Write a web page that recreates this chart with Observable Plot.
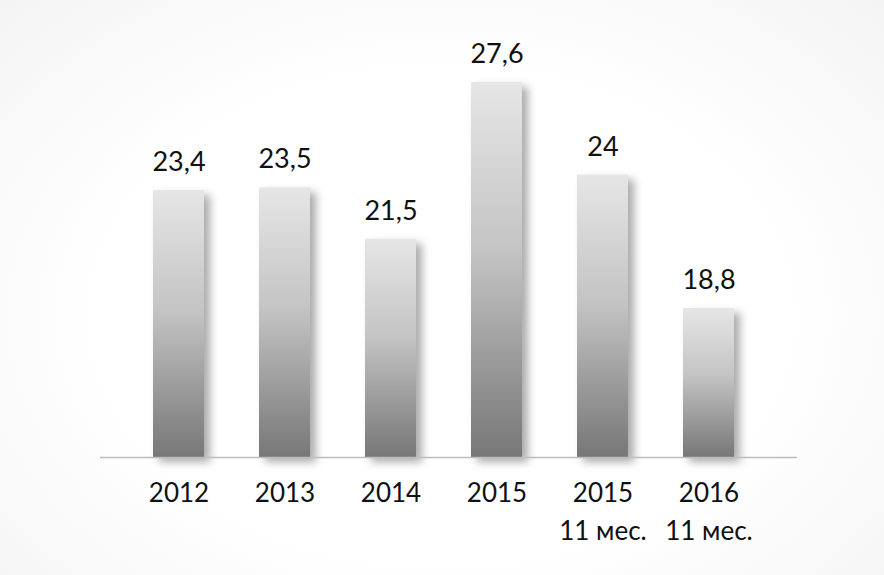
<!DOCTYPE html>
<html>
<head>
<meta charset="utf-8">
<script src="https://cdn.jsdelivr.net/npm/d3@7"></script>
<script src="https://cdn.jsdelivr.net/npm/@observablehq/plot@0.6"></script>
<style>
  html, body { margin: 0; padding: 0; }
  body { width: 884px; height: 575px; overflow: hidden;
         background: radial-gradient(ellipse at 50% 55%, #ffffff 55%, #f4f4f4 100%); }
  #chart svg { display: block; background: transparent; }
</style>
</head>
<body>
<div id="chart"></div>
<script>
const categories = ["2012", "2013", "2014", "2015", "2015\n11 мес.", "2016\n11 мес."];
const values = [23.4, 23.5, 21.5, 27.6, 24, 18.8];
const valueLabels = ["23,4", "23,5", "21,5", "27,6", "24", "18,8"];

const baseline = 13;
const data = categories.map((c, i) => ({cat: c, value: values[i], label: valueLabels[i]}));

const chart = Plot.plot({
  width: 884,
  height: 575,
  marginLeft: 125,
  marginRight: 122,
  marginTop: 82,
  marginBottom: 118,
  style: {fontFamily: "Lato, 'Open Sans', sans-serif", background: "transparent"},
  x: {domain: categories, paddingInner: 0.52, paddingOuter: 0.26, label: null},
  y: {domain: [baseline, 27.6], axis: null},
  marks: [
    Plot.barY(data, {x: "cat", y1: baseline, y2: "value", fill: "url(#barGrad)"}),
    Plot.ruleY([baseline], {stroke: "#bdbdbd", strokeWidth: 1.5, insetLeft: -25, insetRight: -35}),
    Plot.text(data, {x: "cat", y: "value", text: "label", dy: -28, fontSize: 27, fill: "#111", lineAnchor: "middle"}),
    Plot.axisX({tickSize: 0, tickPadding: 18, fontSize: 26, fill: "#111", lineHeight: 1.45, lineAnchor: "top"})
  ]
});

const ns = "http://www.w3.org/2000/svg";
const defs = document.createElementNS(ns, "defs");
defs.innerHTML = `
  <linearGradient id="barGrad" x1="0" y1="0" x2="0" y2="1">
    <stop offset="0" stop-color="#e6e6e6"/>
    <stop offset="0.45" stop-color="#c4c4c4"/>
    <stop offset="1" stop-color="#777777"/>
  </linearGradient>
  <filter id="shadow" x="-30%" y="-10%" width="170%" height="130%">
    <feDropShadow dx="6" dy="5" stdDeviation="4" flood-color="#000" flood-opacity="0.33"/>
  </filter>`;
chart.insertBefore(defs, chart.firstChild);
chart.querySelectorAll("g[aria-label='bar']").forEach(g => g.setAttribute("filter", "url(#shadow)"));

document.getElementById("chart").appendChild(chart);
</script>
</body>
</html>
